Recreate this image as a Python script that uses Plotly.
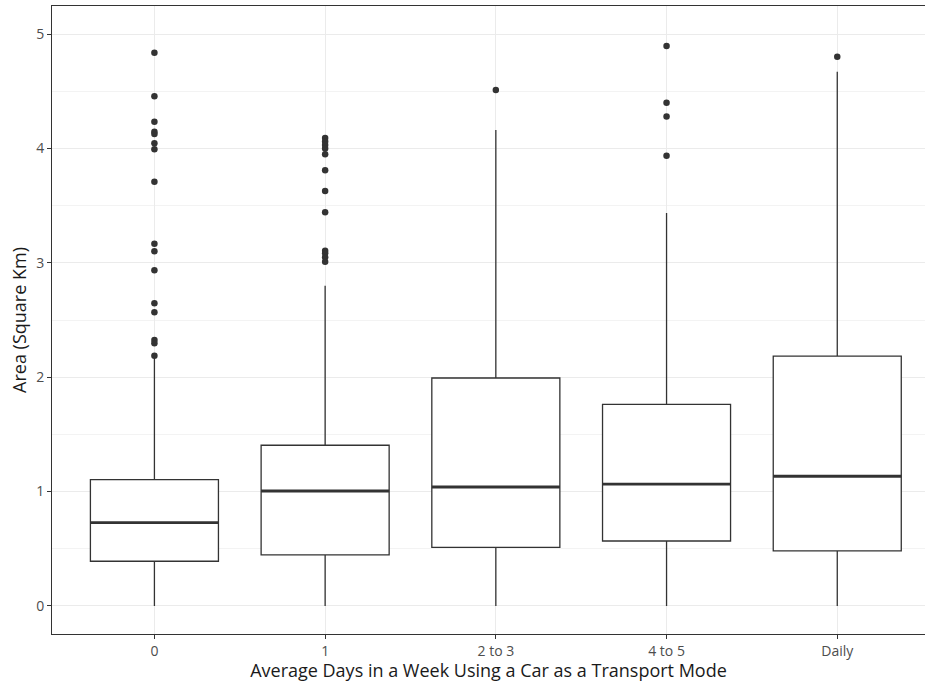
import plotly.graph_objects as go

categories = ["0", "1", "2 to 3", "4 to 5", "Daily"]
q1 = [0.391, 0.446, 0.513, 0.568, 0.481]
median = [0.728, 1.005, 1.040, 1.066, 1.134]
q3 = [1.104, 1.405, 1.993, 1.763, 2.185]
lower_whisker = [0.0, 0.0, 0.0, 0.0, 0.0]
upper_whisker = [2.17, 2.80, 4.16, 3.435, 4.671]
outliers = [
    [4.837, 4.455, 4.233, 4.146, 4.126, 4.045, 3.992, 3.709, 3.167, 3.101,
     2.934, 2.646, 2.567, 2.325, 2.296, 2.188],
    [4.09, 4.06, 4.03, 4.00, 3.95, 3.809, 3.628, 3.441, 3.106, 3.083, 3.048, 3.010],
    [4.51],
    [4.895, 4.40, 4.28, 3.936],
    [4.802],
]
y_ticks = [0, 1, 2, 3, 4, 5]

INK = "#333333"
FONT = "Open Sans"
pos = list(range(len(categories)))
BOX_W = 0.75

fig = go.Figure()
fig.add_trace(go.Box(
    x=pos, q1=q1, median=median, q3=q3,
    lowerfence=lower_whisker, upperfence=upper_whisker,
    width=BOX_W, boxpoints=False, fillcolor="white",
    line=dict(color=INK, width=1.3), whiskerwidth=0,
    showlegend=False, hoverinfo="skip",
))

# thicker median line like ggplot2
mx, my = [], []
for i, m in zip(pos, median):
    mx += [i - BOX_W / 2, i + BOX_W / 2, None]
    my += [m, m, None]
fig.add_trace(go.Scatter(x=mx, y=my, mode="lines",
                         line=dict(color=INK, width=2.8),
                         showlegend=False, hoverinfo="skip"))

ox, oy = [], []
for i, vals in zip(pos, outliers):
    ox += [i] * len(vals)
    oy += vals
fig.add_trace(go.Scatter(x=ox, y=oy, mode="markers",
                         marker=dict(color=INK, size=6.5),
                         showlegend=False, hoverinfo="skip"))

fig.update_layout(
    width=925, height=682,
    margin=dict(l=52, r=0, t=6, b=48),
    paper_bgcolor="white", plot_bgcolor="white",
    font=dict(family=FONT, color="#4D4D4D"),
    xaxis=dict(
        range=[-0.6, 4.514], tickmode="array", tickvals=pos, ticktext=categories,
        showgrid=True, gridcolor="#EBEBEB", gridwidth=1, zeroline=False,
        showline=True, linecolor=INK, linewidth=1, mirror=True,
        ticks="outside", ticklen=4, tickcolor=INK, tickwidth=1,
        tickfont=dict(family=FONT, size=14, color="#4D4D4D"),
        title=dict(text="Average Days in a Week Using a Car as a Transport Mode",
                   font=dict(family=FONT, size=18, color="#1A1A1A"), standoff=1),
    ),
    yaxis=dict(
        range=[-0.245, 5.245], tickmode="array", tickvals=y_ticks,
        showgrid=True, gridcolor="#EBEBEB", gridwidth=1, zeroline=False,
        minor=dict(dtick=0.5, tick0=0.5, showgrid=True, gridcolor="#F3F3F3", gridwidth=1),
        showline=True, linecolor=INK, linewidth=1,
        ticks="outside", ticklen=4, tickcolor=INK, tickwidth=1,
        tickfont=dict(family=FONT, size=14, color="#4D4D4D"),
        title=dict(text="Area (Square Km)",
                   font=dict(family=FONT, size=18, color="#1A1A1A"), standoff=4),
    ),
)

fig.write_html("out.html")
